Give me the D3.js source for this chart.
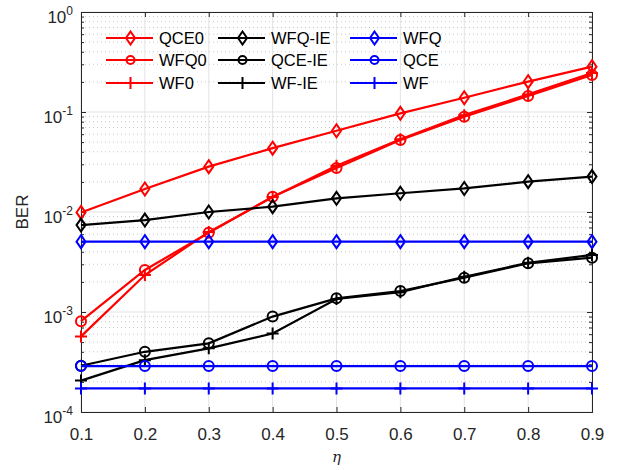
<!DOCTYPE html>
<html>
<head>
<meta charset="utf-8">
<script src="https://cdn.jsdelivr.net/npm/d3@7"></script>
<style>
body { margin: 0; background: #fff; }
text { font-family: 'Liberation Sans', Arial, sans-serif; }
</style>
</head>
<body>
<div id="chart"></div>
<script>
var width = 622;
var height = 470;

var margin = { top: 12, right: 30, bottom: 58, left: 81 };
var chartWidth = width - margin.left - margin.right;
var chartHeight = height - margin.top - margin.bottom;

// data
var eta = [0.1, 0.2, 0.3, 0.4, 0.5, 0.6, 0.7, 0.8, 0.9];
var QCE0 = [0.0099, 0.017, 0.0284, 0.0435, 0.065, 0.097, 0.139, 0.201, 0.284];
var WFQ0 = [0.00081, 0.00263, 0.0062, 0.0142, 0.0275, 0.0525, 0.0898, 0.1445, 0.234];
var WF0 = [0.00057, 0.00234, 0.0063, 0.0141, 0.029, 0.0535, 0.093, 0.15, 0.245];
var WFQ_IE = [0.0074, 0.0083, 0.0100, 0.0113, 0.0137, 0.0154, 0.0172, 0.0201, 0.0226];
var QCE_IE = [0.00029, 0.00040, 0.000486, 0.00090, 0.00137, 0.00162, 0.0022, 0.00307, 0.00349];
var WF_IE = [0.000206, 0.00033, 0.000433, 0.00061, 0.00135, 0.00158, 0.00225, 0.0031, 0.00372];
var WFQ = [0.00505, 0.00505, 0.00505, 0.00505, 0.00505, 0.00505, 0.00505, 0.00505, 0.00505];
var QCE = [0.000288, 0.000288, 0.000288, 0.000288, 0.000288, 0.000288, 0.000288, 0.000288, 0.000288];
var WF = [0.000172, 0.000172, 0.000172, 0.000172, 0.000172, 0.000172, 0.000172, 0.000172, 0.000172];

var xTicks = [0.1, 0.2, 0.3, 0.4, 0.5, 0.6, 0.7, 0.8, 0.9];
var yTicks = [1e-4, 1e-3, 1e-2, 1e-1, 1e0];
var yTickExp = ['-4', '-3', '-2', '-1', '0'];

var series = [
    { name: 'QCE0', values: QCE0, color: '#ff0000', marker: 'diamond' },
    { name: 'WFQ0', values: WFQ0, color: '#ff0000', marker: 'circle' },
    { name: 'WF0', values: WF0, color: '#ff0000', marker: 'plus' },
    { name: 'WFQ-IE', values: WFQ_IE, color: '#000000', marker: 'diamond' },
    { name: 'QCE-IE', values: QCE_IE, color: '#000000', marker: 'circle' },
    { name: 'WF-IE', values: WF_IE, color: '#000000', marker: 'plus' },
    { name: 'WFQ', values: WFQ, color: '#0000ff', marker: 'diamond' },
    { name: 'QCE', values: QCE, color: '#0000ff', marker: 'circle' },
    { name: 'WF', values: WF, color: '#0000ff', marker: 'plus' }
];

var svg = d3.select('#chart').append('svg')
    .attr('width', width)
    .attr('height', height)
    .append('g')
    .attr('transform', `translate(${margin.left}, ${margin.top})`);

var xScale = d3.scaleLinear().domain([0.1, 0.9]).range([0, chartWidth]);
var yScale = d3.scaleLog().domain([1e-4, 1]).range([chartHeight, 0]);

// minor values for log axis
var minorY = [];
for (var e = -4; e < 0; e++) {
    for (var m = 2; m <= 9; m++) minorY.push(m * Math.pow(10, e));
}

// grid
svg.append('g').selectAll('line.minor')
    .data(minorY).enter().append('line')
    .attr('x1', 0).attr('x2', chartWidth)
    .attr('y1', d => yScale(d)).attr('y2', d => yScale(d))
    .attr('stroke', '#c8c8c8')
    .attr('stroke-width', 1)
    .attr('stroke-dasharray', '1,3');

svg.append('g').selectAll('line.hmaj')
    .data(yTicks).enter().append('line')
    .attr('x1', 0).attr('x2', chartWidth)
    .attr('y1', d => yScale(d)).attr('y2', d => yScale(d))
    .attr('stroke', '#e3e3e3')
    .attr('stroke-width', 1);

svg.append('g').selectAll('line.vmaj')
    .data(xTicks).enter().append('line')
    .attr('x1', d => xScale(d)).attr('x2', d => xScale(d))
    .attr('y1', 0).attr('y2', chartHeight)
    .attr('stroke', '#e3e3e3')
    .attr('stroke-width', 1);

// axes
var axisColor = '#262626';
var xAxis_g = svg.append('g')
    .attr('transform', `translate(0, ${chartHeight})`)
    .call(d3.axisBottom(xScale).tickValues(xTicks).tickSize(-5).tickPadding(15.5).tickFormat(d3.format('.1f')));
var xTop_g = svg.append('g')
    .call(d3.axisTop(xScale).tickValues(xTicks).tickSize(-5).tickFormat(''));
var yAxis_g = svg.append('g')
    .call(d3.axisLeft(yScale).tickValues(yTicks).tickSize(-5).tickFormat(''));
var yRight_g = svg.append('g')
    .attr('transform', `translate(${chartWidth}, 0)`)
    .call(d3.axisRight(yScale).tickValues(yTicks).tickSize(-5).tickFormat(''));
var yMinL = svg.append('g')
    .call(d3.axisLeft(yScale).tickValues(minorY).tickSize(-3).tickFormat(''));
var yMinR = svg.append('g')
    .attr('transform', `translate(${chartWidth}, 0)`)
    .call(d3.axisRight(yScale).tickValues(minorY).tickSize(-3).tickFormat(''));

[xAxis_g, xTop_g, yAxis_g, yRight_g, yMinL, yMinR].forEach(function (g) {
    g.select('.domain').attr('stroke', axisColor).attr('stroke-width', 1);
    g.selectAll('.tick line').attr('stroke', axisColor);
});
yMinL.select('.domain').remove();
yMinR.select('.domain').remove();

xAxis_g.selectAll('.tick text')
    .attr('fill', axisColor)
    .style('font-size', '17px')
    .style('font-family', "'Liberation Sans', Arial, sans-serif");

// y tick labels with superscripts
var yLabels = svg.append('g');
yTicks.forEach(function (t, i) {
    var txt = yLabels.append('text')
        .attr('x', -8)
        .attr('y', yScale(t) + 11)
        .attr('text-anchor', 'end')
        .attr('fill', axisColor)
        .style('font-size', '17px');
    txt.append('tspan').text('10');
    txt.append('tspan')
        .attr('dy', -8)
        .style('font-size', '12px')
        .text(yTickExp[i]);
});

// axis labels
svg.append('text')
    .attr('x', chartWidth / 2)
    .attr('y', chartHeight + 50)
    .attr('text-anchor', 'middle')
    .attr('fill', axisColor)
    .style('font-family', "'DejaVu Serif', 'Liberation Serif', serif")
    .style('font-style', 'italic')
    .style('font-size', '15px')
    .text('η');

svg.append('text')
    .attr('transform', `translate(-53, ${chartHeight / 2}) rotate(-90)`)
    .attr('text-anchor', 'middle')
    .attr('fill', axisColor)
    .style('font-size', '17px')
    .text('BER');

// markers
function drawMarker(g, type, x, y, color, size) {
    var s = size || 1;
    if (type === 'diamond') {
        g.append('path')
            .attr('d', `M${x},${y - 6.5 * s}L${x + 4.5 * s},${y}L${x},${y + 6.5 * s}L${x - 4.5 * s},${y}Z`)
            .attr('fill', 'none').attr('stroke', color).attr('stroke-width', 2);
    } else if (type === 'circle') {
        g.append('circle')
            .attr('cx', x).attr('cy', y).attr('r', 5 * s)
            .attr('fill', 'none').attr('stroke', color).attr('stroke-width', 2);
    } else {
        g.append('path')
            .attr('d', `M${x - 6 * s},${y}H${x + 6 * s}M${x},${y - 6 * s}V${y + 6 * s}`)
            .attr('fill', 'none').attr('stroke', color).attr('stroke-width', 2);
    }
}

var line = d3.line()
    .x((d, i) => xScale(eta[i]))
    .y(d => yScale(d));

series.forEach(function (s) {
    var g = svg.append('g');
    g.append('path')
        .attr('d', line(s.values))
        .attr('fill', 'none')
        .attr('stroke', s.color)
        .attr('stroke-width', 2.2);
    s.values.forEach(function (v, i) {
        drawMarker(g, s.marker, xScale(eta[i]), yScale(v), s.color);
    });
});

// legend (column-major, 3 columns, no box)
var legendCols = [25, 137, 269];
var legendRows = [26, 48, 71];
var legend = svg.append('g');
series.forEach(function (s, i) {
    var cx = legendCols[Math.floor(i / 3)];
    var cy = legendRows[i % 3];
    legend.append('line')
        .attr('x1', cx).attr('x2', cx + 47)
        .attr('y1', cy).attr('y2', cy)
        .attr('stroke', s.color)
        .attr('stroke-width', 2.2);
    drawMarker(legend, s.marker, cx + 24.5, cy, s.color, s.marker === 'circle' ? 0.8 : 1);
    legend.append('text')
        .attr('x', cx + 53)
        .attr('y', cy + 6)
        .attr('fill', '#000')
        .style('font-size', '16.5px')
        .text(s.name);
});
</script>
</body>
</html>
